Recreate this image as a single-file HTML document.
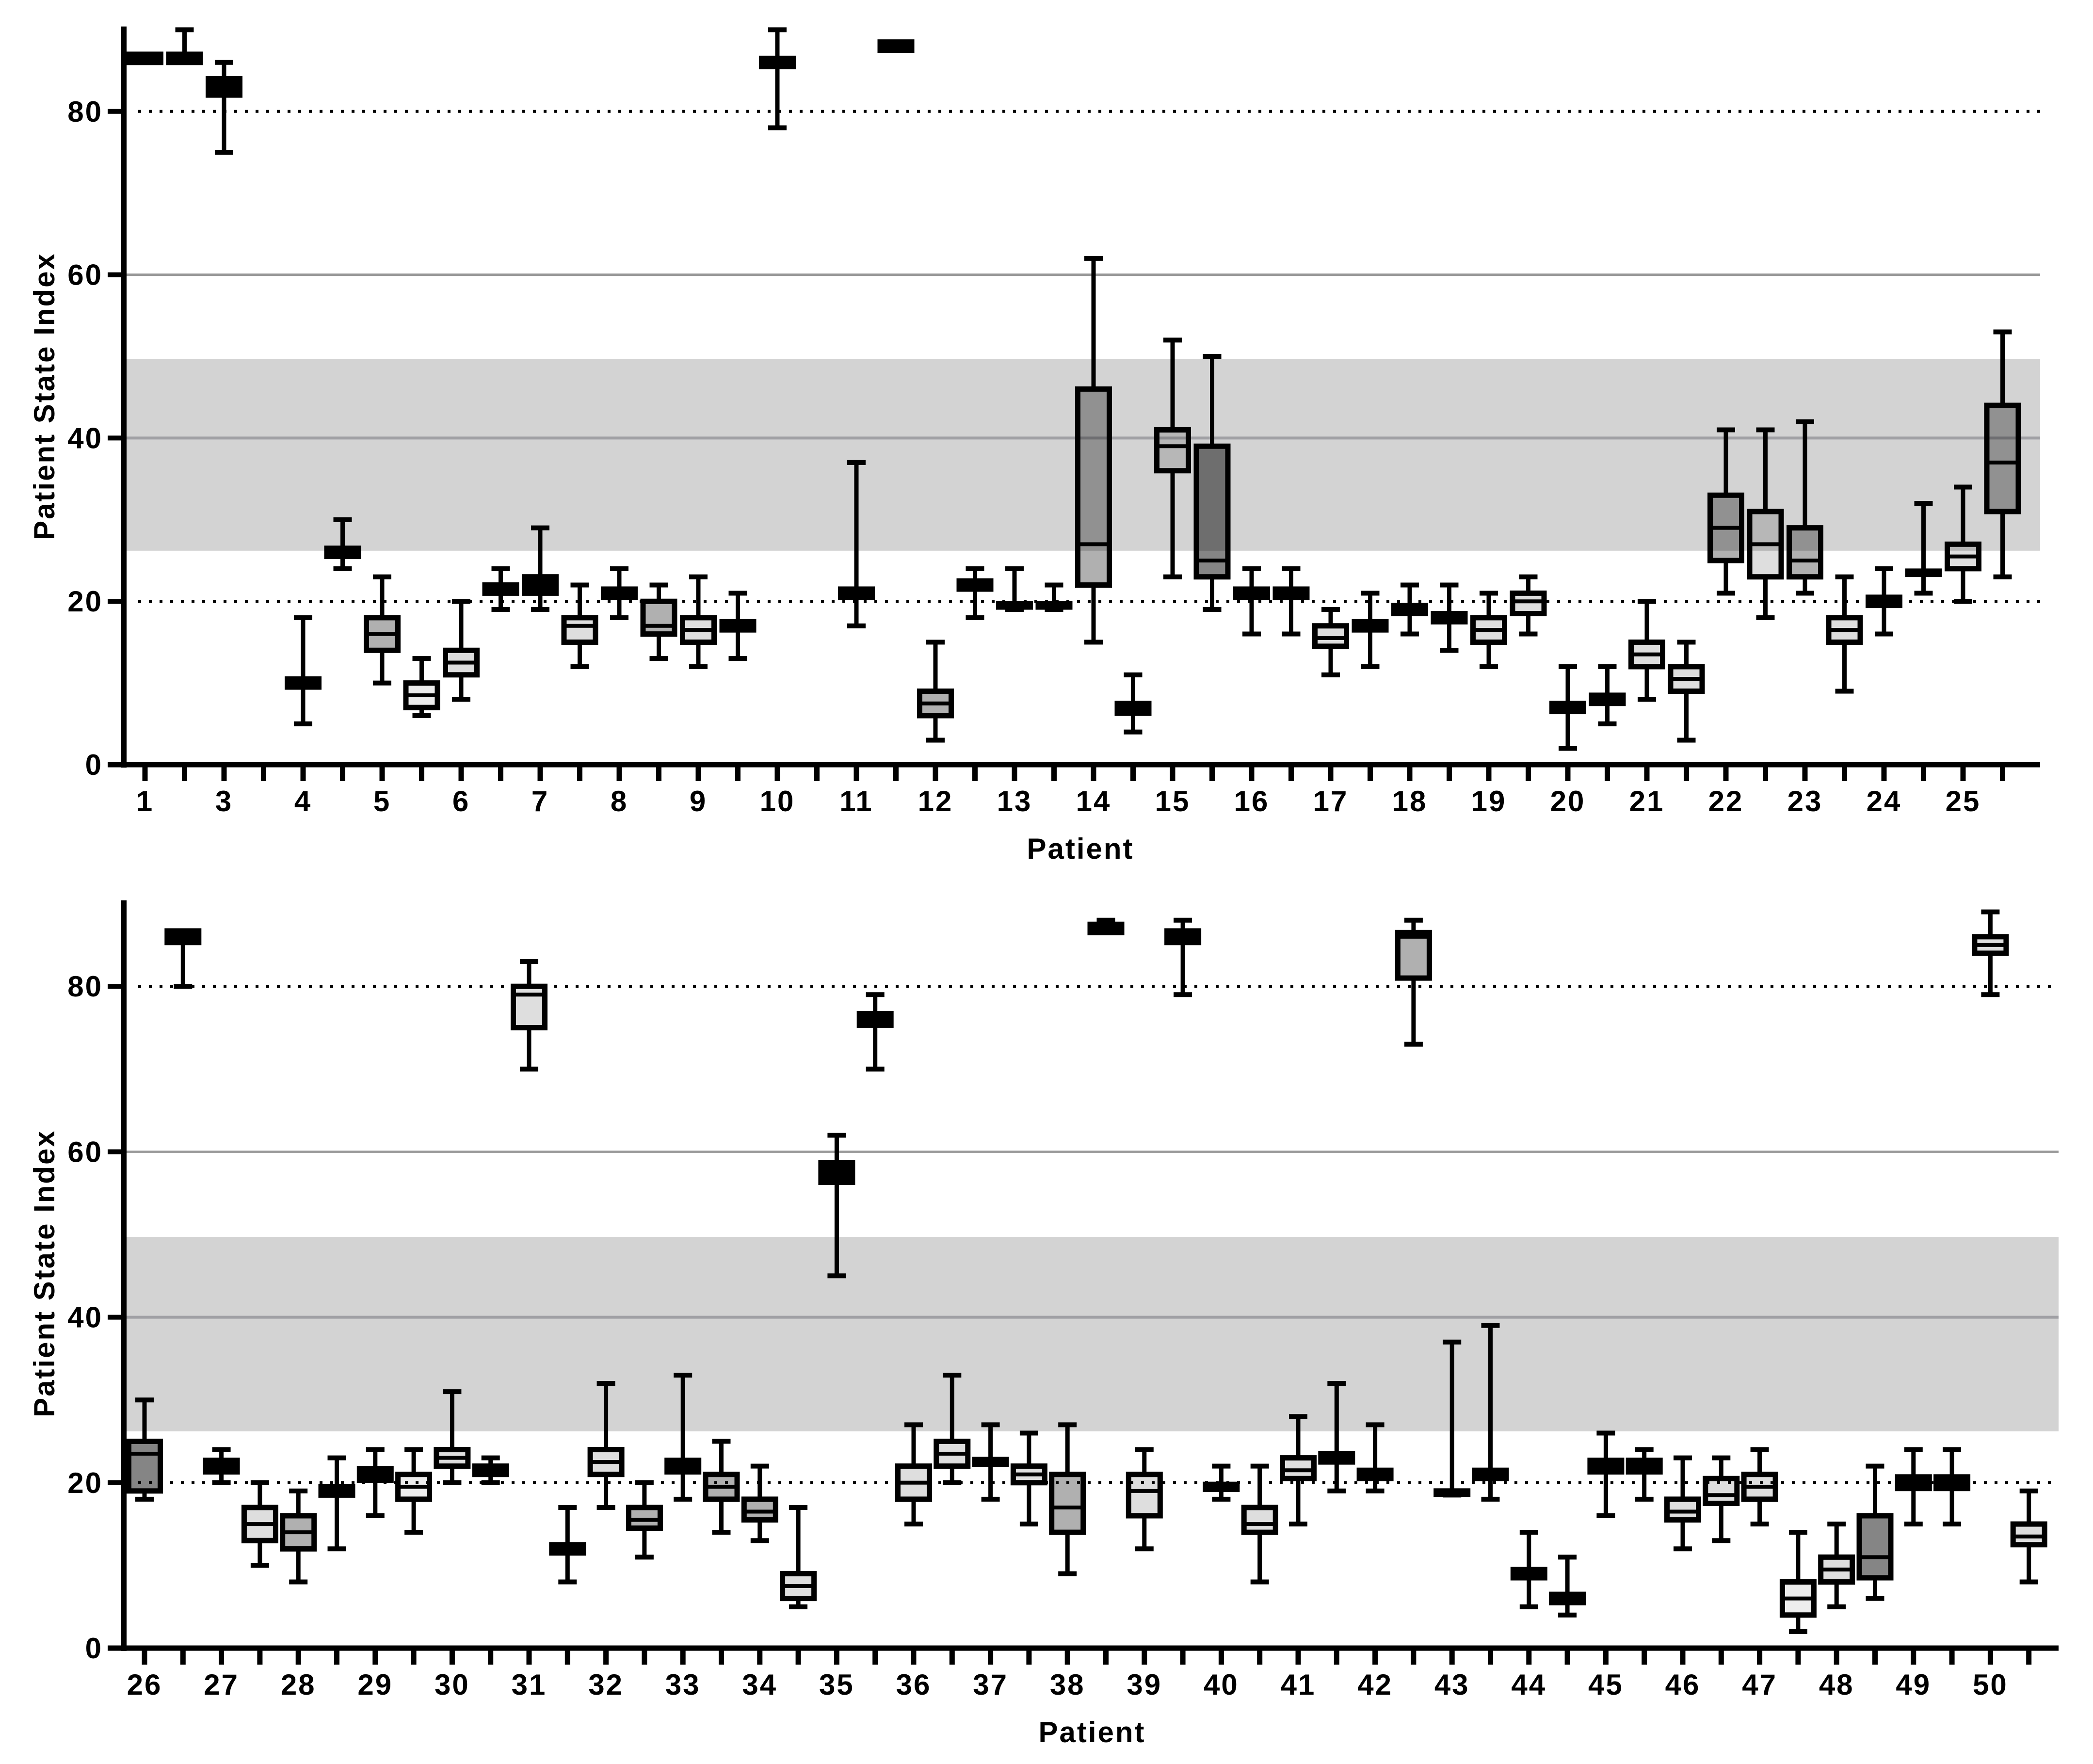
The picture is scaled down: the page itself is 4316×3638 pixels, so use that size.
<!DOCTYPE html>
<html><head><meta charset="utf-8"><style>
html,body{margin:0;padding:0;background:#fff}
svg{display:block}
text{font-family:"Liberation Sans",Arial,sans-serif;font-weight:bold;fill:#000;letter-spacing:3px}
</style></head><body>
<svg id="chart" width="4316" height="3638" viewBox="0 0 4316 3638" xmlns="http://www.w3.org/2000/svg"></svg>
<script>
// ---- Top panel data (patients 1-25, two boxes each; null = no box) ----
const topLabels = ["1","","3","","4","","5","","6","","7","","8","","9","","10","","11","","12","","13","","14","","15","","16","","17","","18","","19","","20","","21","","22","","23","","24","","25",""];
const topMin = [86,86,75,null,5,24,10,6,8,19,19,12,18,13,12,13,78,null,17,87.5,3,18,19,19,15,4,23,19,16,16,11,12,16,14,12,16,2,5,8,3,21,18,21,9,16,21,20,23];
const topQ1  = [86,86,82,null,9.5,25.5,14,7,11,21,21,15,20.5,16,15,16.5,85.5,null,20.5,87.5,6,21.5,19.3,19.3,22,6.3,36,23,20.5,20.5,14.5,16.5,18.5,17.5,15,18.5,6.5,7.5,12,9,25,23,23,15,19.5,23.3,24,31];
const topMed = [86.5,86.5,83,null,10,26,16,8.5,12.5,21.5,22,17,21,17,16.5,17,86,null,21,88,7.5,22,19.5,19.5,27,7,39,25,21,21,15.5,17,19,18,16.5,20,7,8,13.5,10.5,29,27,25,16.5,20,23.5,25.5,37];
const topQ3  = [87,87,84,null,10.5,26.5,18,10,14,22,23,18,21.5,20,18,17.5,86.5,null,21.5,88.5,9,22.5,19.7,19.7,46,7.5,41,39,21.5,21.5,17,17.5,19.5,18.5,18,21,7.5,8.5,15,12,33,31,29,18,20.5,23.7,27,44];
const topMax = [87,90,86,null,18,30,23,13,20,24,29,22,24,22,23,21,90,null,37,88.5,15,24,24,22,62,11,52,50,24,24,19,21,22,22,21,23,12,12,20,15,41,41,42,23,24,32,34,53];
const topFill = [1,1,1,0,1,1,0.31,0.07,0.13,1,1,0.13,1,0.31,0.13,1,1,0,1,1,0.31,1,1,1,0.31,1,0.13,0.48,1,1,0.13,1,1,1,0.13,0.13,1,1,0.13,0.13,0.31,0.13,0.31,0.13,1,1,0.13,0.31];

// ---- Bottom panel data (patients 26-50) ----
const botLabels = ["26","","27","","28","","29","","30","","31","","32","","33","","34","","35","","36","","37","","38","","39","","40","","41","","42","","43","","44","","45","","46","","47","","48","","49","","50",""];
const botMin = [18,80,20,10,8,12,16,14,20,20,70,8,17,11,18,14,13,5,45,70,15,20,18,15,9,86.5,12,79,18,8,15,19,19,73,18.5,18,5,4,16,18,12,13,15,2,5,6,15,15,79,8];
const botQ1  = [19,85.3,21.3,13,12,18.5,20.3,18,22,21,75,11.5,21,14.5,21.3,18,15.5,6,56.3,75.3,18,22,22.2,20,14,86.5,16,85.3,19.2,14,20.5,22.5,20.5,81,18.6,20.5,8.5,5.5,21.3,21.3,15.5,17.5,18,4,8,8.5,19.3,19.3,84,12.5];
const botMed = [23.5,86,22,15,14,19,21,19.5,23,21.5,79,12,22.5,15.5,22,19.5,16.5,7.5,57.5,76,20,23.5,22.5,21,17,87,19,86,19.5,15,21.5,23,21,86,18.8,21,9,6,22,22,16.5,18.5,19.5,6,9.5,11,20,20,85,13.5];
const botQ3  = [25,86.7,22.7,17,16,19.5,21.7,21,24,22,80,12.5,24,17,22.7,21,18,9,58.7,76.7,22,25,22.8,22,21,87.5,21,86.7,19.8,17,23,23.5,21.5,86.5,19,21.5,9.5,6.5,22.7,22.7,18,20.5,21,8,11,16,20.7,20.7,86,15];
const botMax = [30,86,24,20,19,23,24,24,31,23,83,17,32,20,33,25,22,17,62,79,27,33,27,26,27,88,24,88,22,22,28,32,27,88,37,39,14,11,26,24,23,23,24,14,15,22,24,24,89,19];
const botFill = [0.48,1,1,0.13,0.31,1,1,0.07,0.13,1,0.13,1,0.13,0.31,1,0.31,0.31,0.13,1,1,0.13,0.13,1,0.13,0.31,1,0.13,1,1,0.13,0.13,1,1,0.31,1,1,1,1,1,1,0.13,0.13,0.13,0.07,0.13,0.48,1,1,0.13,0.13];

const yTicks = [0,20,40,60,80];
const NS = "http://www.w3.org/2000/svg";
const svg = document.getElementById("chart");
function el(tag, attrs, parent) {
  const e = document.createElementNS(NS, tag);
  for (const k in attrs) e.setAttribute(k, attrs[k]);
  (parent || svg).appendChild(e);
  return e;
}

function panel(cfg, labels, mins, q1s, meds, q3s, maxs, fills) {
  const g = el("g", {});
  
  
  const y = v => cfg.y0 - v * cfg.ppu;
  const x = i => cfg.x0 + i * cfg.slot;
  const axX = 255, right = cfg.right;
  const band = el("rect", {x: axX, y: y(49.7), width: right - axX, height: y(26.2) - y(49.7), fill: "#d3d3d3"}, g);
  
  
  const l40 = el("line", {x1: axX, x2: right, y1: y(40), y2: y(40), stroke: "#a0a0a4", "stroke-width": 6}, g);
  
  
  const l60 = el("line", {x1: axX, x2: right, y1: y(60), y2: y(60), stroke: "#999", "stroke-width": 5}, g);
  
  
  [20, 80].forEach(v => {
    const d = el("line", {x1: axX + 30, x2: right, y1: y(v), y2: y(v), stroke: "#000", "stroke-width": 6, "stroke-dasharray": "6 16"}, g);
    
    
  });
  for (let i = 0; i < mins.length; i++) {
    if (mins[i] === null) continue;
    const bg = el("g", {}, g);
    
    
    const cx = x(i), bw = 75, cw = 38;
    el("line", {x1: cx, x2: cx, y1: y(maxs[i]), y2: y(q3s[i]), stroke: "#000", "stroke-width": 9}, bg);
    el("line", {x1: cx, x2: cx, y1: y(q1s[i]), y2: y(mins[i]), stroke: "#000", "stroke-width": 9}, bg);
    el("line", {x1: cx - cw/2, x2: cx + cw/2, y1: y(maxs[i]), y2: y(maxs[i]), stroke: "#000", "stroke-width": 10}, bg);
    el("line", {x1: cx - cw/2, x2: cx + cw/2, y1: y(mins[i]), y2: y(mins[i]), stroke: "#000", "stroke-width": 10}, bg);
    const f = fills[i];
    el("rect", {x: cx - bw/2 + 5, y: y(q3s[i]), width: bw - 10, height: Math.max(1, y(q1s[i]) - y(q3s[i])),
      fill: f >= 1 ? "#000" : "rgba(0,0,0," + f + ")", stroke: "#000", "stroke-width": 11}, bg);
    el("line", {x1: cx - bw/2 + 5, x2: cx + bw/2 - 5, y1: y(meds[i]), y2: y(meds[i]), stroke: "#000", "stroke-width": 8}, bg);
  }
  const ya = el("line", {x1: axX, x2: axX, y1: y(90.4), y2: cfg.y0 + 6, stroke: "#000", "stroke-width": 12}, g);
  
  
  const xa = el("line", {x1: 222, x2: right, y1: cfg.y0, y2: cfg.y0, stroke: "#000", "stroke-width": 11}, g);
  
  
  yTicks.forEach(v => {
    el("line", {x1: 222, x2: axX, y1: y(v), y2: y(v), stroke: "#000", "stroke-width": 10}, g);
    const t = el("text", {x: 212, y: y(v) + 21, "font-size": 60, "text-anchor": "end"}, g);
    t.textContent = v;
    
    
  });
  for (let i = 0; i < labels.length; i++) {
    el("line", {x1: x(i), x2: x(i), y1: cfg.y0, y2: cfg.y0 + 34, stroke: "#000", "stroke-width": 11}, g);
    if (labels[i]) {
      const t = el("text", {x: x(i), y: cfg.y0 + 96, "font-size": 60, "text-anchor": "middle"}, g);
      t.textContent = labels[i];
      
      
    }
  }
  const yt = el("text", {x: 0, y: 0, "font-size": 60, "text-anchor": "middle", transform: "translate(112," + cfg.titleY + ") rotate(-90)"}, g);
  yt.textContent = "Patient State Index";
  
  
  const xt = el("text", {x: cfg.xTitleX, y: cfg.y0 + 194, "font-size": 60, "text-anchor": "middle"}, g);
  xt.textContent = "Patient";
  
  
}

panel({name: "top-panel", prefix: "top", y0: 1577, ppu: 16.84, x0: 299, slot: 81.5, right: 4207, titleY: 817, xTitleX: 2228},
  topLabels, topMin, topQ1, topMed, topQ3, topMax, topFill);
panel({name: "bottom-panel", prefix: "bottom", y0: 3399, ppu: 17.06, x0: 298, slot: 79.3, right: 4245, titleY: 2626, xTitleX: 2252},
  botLabels, botMin, botQ1, botMed, botQ3, botMax, botFill);
</script>
</body></html>
